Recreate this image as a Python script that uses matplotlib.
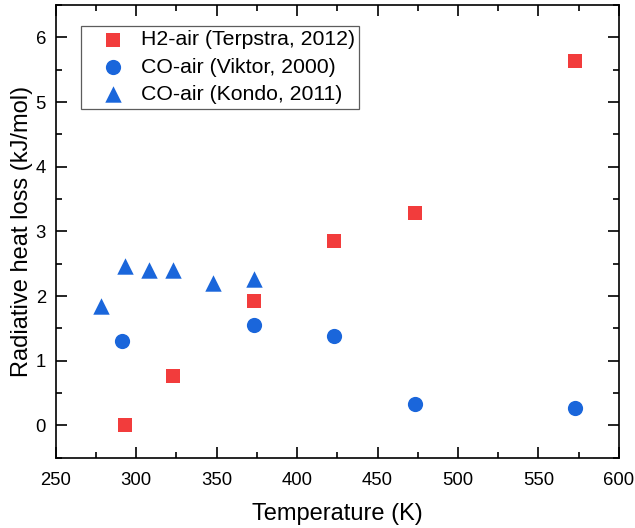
import matplotlib
matplotlib.use("Agg")
import matplotlib.pyplot as plt
from matplotlib.ticker import MultipleLocator

plt.rcParams["font.family"] = ["Liberation Sans", "DejaVu Sans"]

# H2-air (Terpstra, 2012)
h2_temp = [293, 323, 373, 423, 473, 573]
h2_loss = [0.0, 0.76, 1.93, 2.85, 3.28, 5.63]

# CO-air (Viktor, 2000)
viktor_temp = [291, 373, 423, 473, 573]
viktor_loss = [1.30, 1.55, 1.38, 0.33, 0.27]

# CO-air (Kondo, 2011)
kondo_temp = [278, 293, 308, 323, 348, 373]
kondo_loss = [1.85, 2.46, 2.40, 2.40, 2.20, 2.27]

RED = "#F23C3C"
BLUE = "#1A66DB"

fig = plt.figure(figsize=(6.35, 5.28), dpi=100)
ax = fig.add_axes([0.0877, 0.133, 0.887, 0.8575])

ax.scatter(h2_temp, h2_loss, marker="s", s=88, color=RED, linewidths=0,
           label="H2-air (Terpstra, 2012)", zorder=3)
ax.scatter(viktor_temp, viktor_loss, marker="o", s=120, color=BLUE, linewidths=0,
           label="CO-air (Viktor, 2000)", zorder=3)
ax.scatter(kondo_temp, kondo_loss, marker="^", s=140, color=BLUE, linewidths=0,
           label="CO-air (Kondo, 2011)", zorder=3)

ax.set_xlim(250, 600)
ax.set_ylim(-0.5, 6.5)
ax.xaxis.set_major_locator(MultipleLocator(50))
ax.xaxis.set_minor_locator(MultipleLocator(25))
ax.yaxis.set_major_locator(MultipleLocator(1))
ax.yaxis.set_minor_locator(MultipleLocator(0.5))

ax.tick_params(which="both", direction="in", top=True, right=True, width=1.2,
               labelsize=13.3)
ax.tick_params(axis="x", pad=10)
ax.tick_params(axis="y", pad=7)
ax.tick_params(which="major", length=8)
ax.tick_params(which="minor", length=4.5)
for sp in ax.spines.values():
    sp.set_linewidth(1.2)

ax.set_xlabel("Temperature (K)", fontsize=17, labelpad=10)
ax.set_ylabel("Radiative heat loss (kJ/mol)", fontsize=17, labelpad=2)

leg = ax.legend(loc="upper left", bbox_to_anchor=(0.045, 0.9536), fontsize=15.3,
                frameon=True, fancybox=False, edgecolor="#333333",
                handletextpad=0.02, labelspacing=0.39, borderpad=0.21,
                handlelength=2.58, scatterpoints=1, borderaxespad=0)
leg.get_frame().set_linewidth(0.9)

fig.savefig("out.png", dpi=100)
